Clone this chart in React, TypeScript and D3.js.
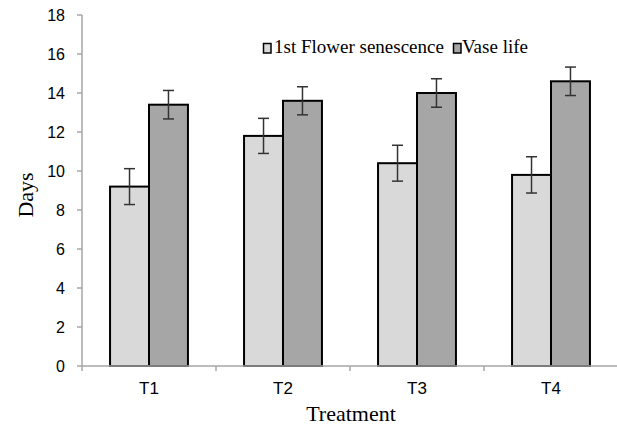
import React from "react";
import * as d3 from "d3";

const categories = ["T1", "T2", "T3", "T4"];
const seriesNames = ["1st Flower senescence", "Vase life"];
const senescence = [9.2, 11.8, 10.4, 9.8];
const senescenceErr = [0.92, 0.9, 0.92, 0.93];
const vaseLife = [13.4, 13.6, 14.0, 14.6];
const vaseLifeErr = [0.73, 0.72, 0.73, 0.73];
const yTicks = [0, 2, 4, 6, 8, 10, 12, 14, 16, 18];
const colors = ["#d9d9d9", "#a6a6a6"];

const W = 617;
const H = 425;
const left = 82;
const right = 618;
const y0 = 366;
const yTop = 15;

export default function App() {
  const x0 = d3.scaleBand<string>().domain(categories).range([left, right]).padding(0);
  const x1 = d3
    .scaleBand<string>()
    .domain(seriesNames)
    .range([0, x0.bandwidth()])
    .paddingInner(0)
    .paddingOuter(0.72);
  const y = d3.scaleLinear().domain([0, 18]).range([y0, yTop]);

  const values = [senescence, vaseLife];
  const errs = [senescenceErr, vaseLifeErr];
  const boundaries = [...categories.map((c) => x0(c) as number), right];

  return (
    <svg width={W} height={H} style={{ position: "absolute", left: 0, top: 0, background: "#fff" }}>
      <rect x={0} y={0} width={W} height={H} fill="#fff" />
      {/* y axis */}
      <line x1={left} x2={left} y1={yTop} y2={y0} stroke="#a6a6a6" strokeWidth={1.5} />
      {yTicks.map((t) => (
        <g key={t}>
          <line x1={left - 5} x2={left} y1={y(t)} y2={y(t)} stroke="#a6a6a6" strokeWidth={1.5} />
          <text
            x={65}
            y={y(t)}
            dy="0.36em"
            textAnchor="end"
            fontFamily="'Liberation Sans', Arial, sans-serif"
            fontSize={16}
            fill="#000"
          >
            {t}
          </text>
        </g>
      ))}
      {/* bars */}
      {categories.map((c, i) => (
        <g key={c}>
          {seriesNames.map((s, k) => {
            const bx = (x0(c) as number) + (x1(s) as number);
            const v = values[k][i];
            return (
              <rect
                key={s}
                x={bx}
                y={y(v)}
                width={x1.bandwidth()}
                height={y0 - y(v)}
                fill={colors[k]}
                stroke="#000"
                strokeWidth={2}
              />
            );
          })}
        </g>
      ))}
      {/* x axis */}
      <line x1={left} x2={right} y1={y0} y2={y0} stroke="#a6a6a6" strokeWidth={1.5} />
      {boundaries.map((b, i) => (
        <line key={i} x1={b} x2={b} y1={y0} y2={y0 + 5} stroke="#a6a6a6" strokeWidth={1.5} />
      ))}
      {/* error bars */}
      {categories.map((c, i) => (
        <g key={c + "e"}>
          {seriesNames.map((s, k) => {
            const cx = (x0(c) as number) + (x1(s) as number) + x1.bandwidth() / 2;
            const v = values[k][i];
            const e = errs[k][i];
            return (
              <g key={s} stroke="#333" strokeWidth={1.5}>
                <line x1={cx} x2={cx} y1={y(v + e)} y2={y(v - e)} />
                <line x1={cx - 5.5} x2={cx + 5.5} y1={y(v + e)} y2={y(v + e)} />
                <line x1={cx - 5.5} x2={cx + 5.5} y1={y(v - e)} y2={y(v - e)} />
              </g>
            );
          })}
        </g>
      ))}
      {/* x labels */}
      {categories.map((c) => (
        <text
          key={c}
          x={(x0(c) as number) + x0.bandwidth() / 2}
          y={394}
          textAnchor="middle"
          fontFamily="'Liberation Sans', Arial, sans-serif"
          fontSize={17}
          fill="#000"
        >
          {c}
        </text>
      ))}
      {/* axis titles */}
      <text
        x={351}
        y={421}
        textAnchor="middle"
        fontFamily="'Liberation Serif', 'Times New Roman', serif"
        fontSize={22}
        fill="#000"
      >
        Treatment
      </text>
      <text
        transform={`translate(33, ${195}) rotate(-90)`}
        textAnchor="middle"
        fontFamily="'Liberation Serif', 'Times New Roman', serif"
        fontSize={22}
        fill="#000"
      >
        Days
      </text>
      {/* legend */}
      <g fontFamily="'Liberation Serif', 'Times New Roman', serif" fontSize={19} fill="#000">
        <rect x={263.5} y={43.5} width={7.5} height={9.5} fill={colors[0]} stroke="#000" strokeWidth={1.5} />
        <text x={274} y={53}>{seriesNames[0]}</text>
        <rect x={453.5} y={43.5} width={7.5} height={9.5} fill={colors[1]} stroke="#000" strokeWidth={1.5} />
        <text x={462} y={53}>{seriesNames[1]}</text>
      </g>
    </svg>
  );
}
